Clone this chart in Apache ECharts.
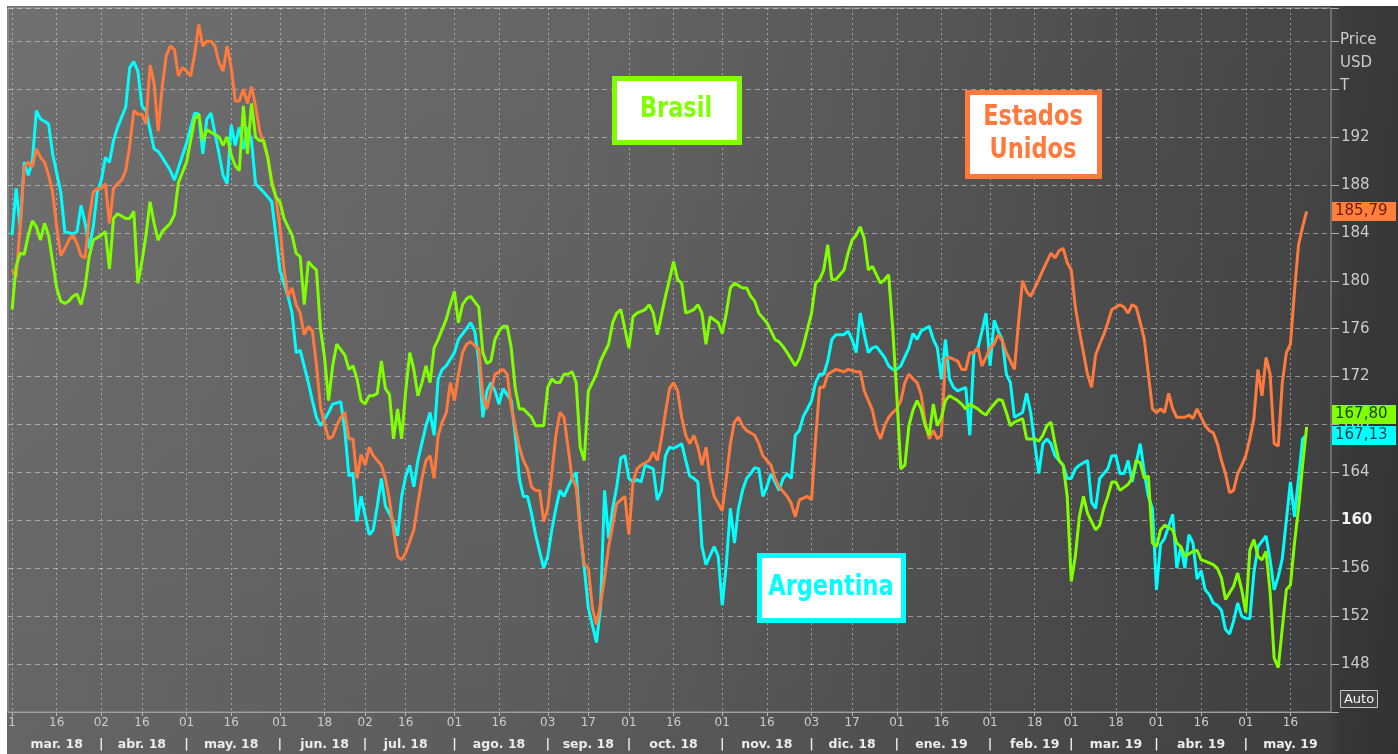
<!DOCTYPE html>
<html><head><meta charset="utf-8">
<script src="https://cdn.jsdelivr.net/npm/echarts@6/dist/echarts.min.js"></script>
<style>
html,body{margin:0;padding:0;background:#fff;}
#bg{position:absolute;left:7px;top:6px;width:1391px;height:748px;
background: linear-gradient(to bottom, rgba(0,0,0,0) 0%, rgba(0,0,0,0.10) 100%),
 linear-gradient(to right, #707070 0px, #646464 600px, #575757 900px, #4c4c4c 1150px, #454545 1320px, #3c3c3c 1335px, #383838 1391px);}
#chart{position:absolute;left:0;top:0;width:1398px;height:754px;}
</style></head><body><div id="bg"></div><div id="chart"></div>
<script>
// ---- calendar (business days) ----
const START = '2018-02-28', END = '2019-05-30';
function businessDays(a, b) {
  const out = []; const d = new Date(a + 'T00:00:00Z'); const e = new Date(b + 'T00:00:00Z');
  while (d <= e) { const w = d.getUTCDay(); if (w !== 0 && w !== 6) out.push(d.toISOString().slice(0, 10)); d.setUTCDate(d.getUTCDate() + 1); }
  return out;
}
const categories = businessDays(START, END);

// ---- tick labels ----
const tickDates = ['2018-03-01','2018-03-16','2018-04-02','2018-04-16','2018-05-01','2018-05-16','2018-06-01','2018-06-18','2018-07-02','2018-07-16','2018-08-01','2018-08-16','2018-09-03','2018-09-17','2018-10-01','2018-10-16','2018-11-01','2018-11-16','2018-12-03','2018-12-17','2019-01-01','2019-01-16','2019-02-01','2019-02-18','2019-03-01','2019-03-18','2019-04-01','2019-04-16','2019-05-01','2019-05-16'];
const tickLabels = ['1','16','02','16','01','16','01','18','02','16','01','16','03','17','01','16','01','16','03','17','01','16','01','18','01','18','01','16','01','16'];
const monthNames = ['mar. 18','abr. 18','may. 18','jun. 18','jul. 18','ago. 18','sep. 18','oct. 18','nov. 18','dic. 18','ene. 19','feb. 19','mar. 19','abr. 19','may. 19'];

// ---- series values: [business-day index, price] ----
const argentina = [[1,183.8],[2,187.7],[3,184.5],[4,189.9],[5,188.8],[6,190],[7,194.2],[8,193.5],[10,193.1],[11,190.6],[13,187.4],[14,184.1],[16,183.9],[17,184.1],[18,186.3],[19,184.8],[20,182.7],[21,184.5],[22,187.4],[23,188.4],[24,190.3],[25,189.9],[26,191.7],[27,192.8],[29,194.5],[30,197.8],[31,198.3],[32,197.5],[33,194.6],[34,194.2],[36,191],[37,190.8],[38,190.3],[40,189.2],[41,188.4],[44,191.5],[46,194],[47,193.9],[48,190.6],[49,193.5],[50,194],[52,190.6],[53,188.8],[54,188.1],[55,193],[56,191.3],[57,192.8],[58,191],[59,192.8],[60,191.7],[61,188.1],[63,187.4],[65,186.6],[66,183.8],[67,180.9],[69,178.7],[70,177.3],[71,174],[72,174.2],[74,171.5],[75,170],[76,168.6],[77,167.9],[79,169],[80,169.7],[82,169.9],[83,167.5],[84,163.7],[85,163.9],[86,159.9],[87,162],[89,158.8],[90,159.2],[91,161.2],[92,163.5],[93,161.2],[95,159.9],[96,158.7],[97,162],[98,163.7],[99,164.6],[100,162.8],[101,165],[103,167.9],[104,169],[105,167.1],[106,171.8],[107,172.6],[108,172.9],[110,174],[111,175.1],[113,176],[114,176.5],[115,175.8],[116,173.3],[117,168.6],[118,170.8],[119,171.5],[120,170.8],[121,169.7],[122,171],[124,170],[125,167.1],[126,163.5],[127,162],[128,162],[129,160.6],[130,158.8],[132,156],[133,157],[134,159.2],[135,161],[136,162.5],[137,162],[139,163.5],[140,164],[141,159.2],[142,156],[143,152.7],[145,149.8],[146,152.7],[147,162.5],[148,158.5],[149,161],[150,162.8],[151,165.2],[152,165.4],[153,163.5],[154,163.2],[155,163.4],[156,163.2],[157,164.6],[159,164.3],[160,161.7],[161,162.5],[162,165.4],[163,166.1],[164,166],[166,166.4],[167,165],[168,163.7],[169,163.5],[170,163.2],[171,157.8],[172,156.3],[174,157.8],[175,157],[176,152.9],[177,156.3],[178,161],[179,158.1],[180,161],[181,162.5],[182,163.5],[183,163.9],[184,164.4],[185,164.3],[186,162],[187,162.8],[188,163.9],[189,163.2],[190,162.5],[191,163.5],[192,163.9],[193,163.5],[194,167.1],[195,167.5],[196,168.7],[197,169.3],[198,170],[199,171.5],[200,172.2],[201,172.2],[202,173.3],[203,175.1],[204,175.5],[206,175.5],[207,175.8],[208,175.1],[209,174],[210,177.3],[211,175.5],[212,174],[213,174.4],[214,174.5],[216,173.6],[217,172.9],[218,172.6],[219,172.6],[220,172.9],[222,174.4],[223,175.6],[224,175.1],[225,175.8],[227,176.2],[228,175.1],[229,174.4],[230,171.8],[231,175.1],[232,171.8],[233,171.1],[234,170.8],[236,171.1],[237,167.1],[238,174],[239,174.4],[240,175.8],[241,177.3],[242,172.9],[243,176.7],[244,175.8],[245,175.1],[246,172.2],[247,171.5],[248,168.6],[250,169],[251,170.6],[252,169],[253,166.4],[254,163.9],[255,166.4],[256,166.8],[257,166.4],[258,165.4],[260,164.6],[261,163.5],[262,163.5],[263,164.3],[264,164.6],[266,165],[267,161.5],[268,161],[269,163.5],[271,164.3],[272,165.4],[273,165.4],[274,163.9],[275,163.9],[276,165],[277,163.2],[279,166.4],[280,164],[281,162],[282,161],[283,154.2],[284,158],[285,158.5],[286,159.5],[287,160.5],[288,156],[289,157.8],[290,156],[291,158.8],[292,158.1],[293,155.1],[294,155.8],[295,154.2],[296,153.8],[297,153.1],[298,152.9],[299,152.5],[300,150.9],[301,150.5],[302,151.6],[303,153.1],[304,152],[305,151.8],[306,151.8],[307,155.6],[308,157.8],[310,158.7],[311,156.7],[312,154.2],[313,155.3],[314,156.8],[315,160],[316,163.2],[317,160.3],[318,163.5],[319,166.8],[320,167.13]];

const brasil = [[1,177.6],[2,181.2],[3,182.3],[4,182.2],[5,183.8],[6,185],[7,184.5],[8,183.4],[9,184.8],[10,183.8],[11,181.6],[12,179.4],[13,178.3],[14,178.1],[15,178.3],[16,178.7],[17,178.9],[18,178],[19,179.5],[20,182],[21,183.4],[22,183.6],[23,183.8],[24,184.1],[25,181],[26,185.2],[27,185.6],[29,185.2],[30,185.2],[31,185.8],[32,179.8],[33,181.6],[34,183.8],[35,186.6],[36,184.8],[37,183.4],[38,184.1],[40,184.8],[41,185.5],[42,188.2],[44,189.9],[45,191.7],[46,193.5],[47,193.9],[48,191.7],[49,192.6],[50,192.4],[52,192],[53,191.3],[54,192],[55,190.5],[56,189.6],[57,189.2],[58,194.6],[59,190.6],[60,194.8],[61,192],[62,191.7],[63,191.7],[64,190.3],[65,188.1],[66,187],[67,186.6],[68,185.2],[69,184.5],[70,183.8],[71,182.3],[72,182],[73,178],[74,181.6],[75,181.2],[76,180.9],[77,176],[78,173.6],[79,170],[80,172.9],[81,174.7],[83,173.8],[84,172.6],[85,172.9],[86,171.8],[87,170],[88,169.7],[89,170.4],[90,170.4],[91,170.6],[92,173.3],[93,171],[94,170.5],[95,166.8],[96,169.3],[97,166.8],[98,170.8],[99,174],[100,172.6],[101,170.4],[102,171.5],[103,172.9],[104,171.5],[105,174.4],[106,175.1],[108,176.8],[109,178],[110,179.1],[111,176.5],[112,178],[113,178.5],[114,178.7],[116,177.8],[117,174],[118,173.1],[119,173.3],[120,175.1],[121,175.8],[122,176.2],[123,176.2],[124,174.4],[125,171],[126,169.3],[127,169.3],[129,168.6],[130,167.9],[131,167.9],[132,167.9],[133,171.1],[134,171.8],[135,171.5],[136,171.5],[137,172.2],[138,172.2],[139,172.4],[140,171.5],[141,166.1],[142,165],[143,170.8],[144,171.5],[145,172.2],[146,173.3],[148,174.7],[149,176.5],[150,177.3],[151,177.6],[153,174.4],[154,177],[155,177.3],[157,177.6],[158,178],[159,177.3],[160,175.5],[162,178.7],[163,180.1],[164,181.6],[165,180.1],[166,179.8],[167,177.3],[169,177.6],[170,178],[171,177.3],[172,174.7],[173,177],[175,176.5],[176,175.6],[177,177.3],[178,179.4],[179,179.8],[181,179.4],[182,179.4],[183,178.7],[184,178.3],[185,177.3],[186,176.9],[187,176.5],[189,175.1],[190,174.9],[191,174.5],[192,174],[194,172.9],[195,173.5],[196,174.6],[198,177.3],[199,179.8],[200,180.1],[201,180.9],[202,183],[203,180.1],[204,180.1],[205,180.5],[206,180.9],[207,182.3],[208,183.4],[209,183.8],[210,184.5],[211,183.5],[212,180.9],[213,181.2],[215,179.8],[216,180.1],[217,180.5],[218,176],[219,170.5],[220,164.3],[221,164.6],[222,167.9],[223,169.2],[224,170],[225,169.3],[226,167.9],[227,167.1],[228,169.7],[229,167.9],[230,168.6],[231,170],[232,170.4],[234,170],[235,169.7],[236,169.3],[237,169.7],[239,169.3],[240,169],[241,168.8],[242,169.3],[244,170.1],[245,170],[246,169],[247,167.9],[248,168.2],[250,168.5],[251,166.8],[253,166.8],[254,166.6],[255,167.1],[256,167.9],[257,168.2],[258,166.4],[259,165],[260,164.6],[261,162],[262,154.9],[263,157],[264,160.3],[265,162],[266,160.6],[267,159.9],[268,159.2],[269,159.6],[270,161],[271,162],[272,163.2],[273,163.2],[274,162.5],[276,163],[277,163.5],[278,165],[279,164.8],[280,163.5],[281,163.7],[282,158.1],[283,157.8],[284,159.2],[285,159.6],[287,159.2],[288,158.1],[289,157.8],[290,157],[292,157.4],[293,157.5],[294,156.7],[295,156.6],[297,156.3],[298,156],[299,155.2],[300,153.4],[302,154.5],[303,155.6],[304,154.2],[305,152.3],[306,157.5],[307,158.4],[308,157],[309,156.7],[310,157.4],[311,154],[312,148.5],[313,147.7],[314,151],[315,154.2],[316,154.6],[317,158.1],[318,161],[319,164.6],[320,167.8]];

const estadosUnidos = [[1,180.9],[2,180.3],[3,184.5],[4,189.5],[5,189.9],[6,189.5],[7,191],[8,190.3],[9,189.9],[10,188.8],[11,187.4],[12,184.5],[13,182.1],[14,182.7],[15,183.4],[16,183.8],[17,183.1],[18,182.1],[19,181.9],[20,185.2],[21,187.4],[22,187.7],[23,187.7],[24,188.1],[25,184.8],[26,187.7],[27,188.1],[28,188.4],[29,189.2],[30,191.3],[31,194.2],[32,193.9],[33,193.9],[34,193.1],[35,198],[36,196.5],[37,192.5],[38,196.2],[39,198.8],[40,199.6],[41,199.3],[42,197.1],[43,197.8],[44,197.5],[45,197.1],[46,198.9],[47,201.4],[48,199.6],[49,200],[50,200],[51,199.6],[52,198.2],[53,197.5],[54,199.6],[55,197.8],[56,195],[57,195],[58,196],[59,194.8],[60,196.2],[61,194.6],[62,192.5],[63,191.5],[64,190.3],[65,188.4],[66,187],[67,184.5],[68,181],[69,178.7],[70,179.4],[71,178],[72,177.3],[73,175.5],[74,176.2],[75,175.8],[76,173],[77,169.5],[78,168],[79,166.8],[80,167],[81,167.9],[82,168.6],[83,169],[84,166.8],[85,166.8],[86,163.5],[87,165.5],[88,164.6],[89,166.1],[90,165.4],[92,164.6],[93,163.5],[94,161.7],[95,159.2],[96,157],[97,156.7],[98,157.3],[100,159.2],[101,161.4],[102,163.5],[103,165],[104,165.4],[105,163.5],[106,167.1],[107,168.2],[108,169],[109,171.5],[110,170],[111,172.2],[112,174],[113,174.7],[114,174.9],[116,174.3],[117,170.4],[118,169.3],[119,170.8],[120,172.2],[122,172.6],[123,172.2],[124,169.5],[126,166.1],[127,165],[128,164.3],[129,162.8],[130,162.5],[131,162.5],[132,159.9],[133,161],[134,163.9],[135,167.1],[136,169],[137,168.6],[138,166.1],[139,163.5],[140,162.8],[141,159.2],[142,156.3],[143,156],[144,152.7],[145,151.3],[146,153],[147,155.2],[148,157.8],[149,159.6],[150,161.4],[152,162],[153,158.8],[154,163.2],[155,164.3],[156,164.6],[158,165],[159,165.7],[160,165],[161,166.8],[162,169],[163,171],[164,171.5],[165,170.8],[166,168.6],[167,167.1],[168,166.4],[169,167.1],[170,166.1],[171,164.6],[172,166.1],[173,163.5],[174,162],[175,161.4],[176,160.8],[177,163.5],[178,166.4],[179,168.2],[180,168.6],[181,167.9],[182,167.5],[184,167.1],[185,166.4],[186,165.4],[187,165],[188,164.6],[189,163.5],[190,162.8],[192,162],[193,161.4],[194,160.3],[195,161.7],[197,162],[198,161.7],[199,166.8],[200,171.1],[201,171.1],[202,172.2],[203,172.4],[204,172.6],[206,172.4],[207,172.6],[209,172.4],[210,172.4],[211,170.8],[212,170],[213,169.2],[214,167.6],[215,166.8],[216,167.9],[217,168.6],[218,169],[219,169.3],[220,170],[221,171.5],[222,172.2],[223,171.8],[224,171.5],[225,170.5],[226,168.2],[227,166.8],[228,167.5],[229,166.8],[230,167.1],[231,173.5],[232,173.6],[234,173.3],[235,172.6],[236,172.6],[237,174],[238,174],[239,174.4],[240,172.9],[241,173.6],[242,174.4],[243,174.7],[244,175.5],[245,175],[246,174],[247,173.3],[248,172.6],[249,176.5],[250,180],[251,179.1],[252,178.7],[253,179.4],[254,180.1],[255,180.9],[256,181.6],[257,182.3],[258,181.9],[259,182.5],[260,182.7],[261,181.5],[262,180.9],[263,177.8],[264,175.8],[265,174],[266,172.2],[267,171.1],[268,173.8],[269,174.7],[270,175.5],[271,176.5],[272,177.6],[274,178],[275,177.8],[276,177.3],[277,178],[278,177.8],[279,176.5],[280,175.1],[281,172.2],[282,169.3],[283,169],[284,169.3],[285,169],[286,170.6],[287,169.3],[288,168.6],[290,168.6],[291,168.8],[292,168.5],[293,169.3],[295,167.9],[296,167.5],[297,167.3],[298,166.4],[299,165],[300,163.9],[301,162.3],[302,162.5],[303,163.9],[304,164.6],[305,165.4],[306,166.8],[307,168.5],[308,172.6],[309,170.4],[310,173.6],[311,172.2],[312,166.4],[313,166.2],[314,171.5],[315,174],[316,174.7],[317,179.1],[318,183],[319,184.5],[320,185.79]];

// ---- colors ----
const C_ARG = '#00ffff', C_BRA = '#80ff00', C_USA = '#ff7a3c';

// ---- derived axis helpers ----
const tickIdx = tickDates.map(d => categories.indexOf(d));
const tickMap = new Map(tickIdx.map((i, k) => [i, tickLabels[k]]));
const monthMap = new Map();
tickIdx.forEach((i, k) => { if (k % 2 === 1) monthMap.set(i, monthNames[(k - 1) / 2]); else if (k > 0) monthMap.set(i, '|'); });
const toSeries = arr => arr.map(([i, v]) => [categories[i], v]);

const FONT = 'DejaVu Sans, Verdana, sans-serif';
const gridLine = 'rgba(255,255,255,0.42)';

const chart = echarts.init(document.getElementById('chart'), null, {renderer: 'canvas'});
const option = {
  backgroundColor: 'transparent',
  animation: false,
  grid: {left: 8, right: 67, top: 8, bottom: 42, show: true, borderColor: '#9a9a9a', borderWidth: 1, backgroundColor: 'transparent', outerBoundsMode: 'none', containLabel: false},
  xAxis: [{
    type: 'category', data: categories, boundaryGap: false,
    axisLine: {show: true, lineStyle: {color: '#a0a0a0'}},
    axisTick: {show: true, interval: i => tickMap.has(i), length: 4, lineStyle: {color: '#b5b5b5'}},
    axisLabel: {interval: i => tickMap.has(i), formatter: (v, i) => tickMap.get(i) || '', color: '#cdcdcd', fontSize: 12, fontFamily: FONT, margin: 5},
    splitLine: {show: true, interval: i => tickMap.has(i), lineStyle: {color: gridLine, type: [2, 3], width: 1}}
  }, {
    type: 'category', data: categories, boundaryGap: false, position: 'bottom', offset: 21,
    axisLine: {show: false}, axisTick: {show: false}, splitLine: {show: false},
    axisLabel: {interval: i => monthMap.has(i), formatter: (v, i) => monthMap.get(i) || '', color: '#ececec', fontSize: 12.5, fontWeight: 'bold', fontFamily: FONT, margin: 5}
  }],
  yAxis: {
    type: 'value', position: 'right', min: 144, max: 202.77, interval: 4,
    axisLine: {show: false},
    axisTick: {show: true, length: 8, lineStyle: {color: '#b0b0b0'}},
    axisLabel: {
      margin: 10, color: '#cccccc', fontSize: 15, fontFamily: FONT,
      formatter: v => (v >= 148 && v <= 192) ? (v === 160 ? '{b|160}' : String(v)) : '',
      rich: {b: {fontWeight: 'bold', color: '#f2f2f2', fontSize: 15, fontFamily: FONT}}
    },
    splitLine: {show: true, lineStyle: {color: gridLine, type: [5, 4], width: 1}}
  },
  series: [
    {name: 'Argentina', type: 'line', data: toSeries(argentina), symbol: 'none', lineStyle: {color: C_ARG, width: 3}, itemStyle: {color: C_ARG}, z: 3},
    {name: 'Estados Unidos', type: 'line', data: toSeries(estadosUnidos), symbol: 'none', lineStyle: {color: C_USA, width: 3}, itemStyle: {color: C_USA}, z: 4},
    {name: 'Brasil', type: 'line', data: toSeries(brasil), symbol: 'none', lineStyle: {color: C_BRA, width: 3}, itemStyle: {color: C_BRA}, z: 5}
  ]
};
chart.setOption(option);

// ---- annotations ----
const LBL_FONT = 'bold 25px "DejaVu Sans Condensed", "DejaVu Sans", sans-serif';
function box(x, y, w, h, color) {
  return {type: 'rect', shape: {x, y, width: w, height: h}, style: {fill: '#ffffff', stroke: color, lineWidth: 5}, z: 20};
}
function label(x, y, text, color) {
  return {type: 'text', x, y, scaleY: 1.14, style: {text, fill: color, font: LBL_FONT, align: 'center', verticalAlign: 'middle', textAlign: 'center', textVerticalAlign: 'middle'}, z: 21};
}
const last = a => a[a.length - 1][1];
const tags = [
  {v: last(estadosUnidos), bg: '#ff7f3f', fg: '#6a1c00'},
  {v: last(brasil), bg: '#80ff00', fg: '#1f4200'},
  {v: last(argentina), bg: '#00ffff', fg: '#003e46'}
];
tags.forEach(t => { t.y = chart.convertToPixel({yAxisIndex: 0}, t.v); });
tags.sort((a, b) => a.y - b.y);
for (let i = tags.length - 1; i > 0; i--) {
  if (tags[i].y - tags[i - 1].y < 21) tags[i - 1].y = tags[i].y - 21;
}
const tagEls = [];
tags.forEach(t => {
  tagEls.push({type: 'rect', shape: {x: 1332, y: Math.round(t.y) - 9, width: 64, height: 19}, style: {fill: t.bg}, z: 30});
  tagEls.push({type: 'text', x: 1335, y: Math.round(t.y) + 0.5, style: {text: t.v.toFixed(2).replace('.', ','), fill: t.fg, font: '15px ' + FONT, align: 'left', verticalAlign: 'middle', textVerticalAlign: 'middle'}, z: 31});
});

chart.setOption({
  graphic: [
    box(614.5, 78.5, 125, 64, C_BRA), label(676, 110, 'Brasil', C_BRA),
    box(967.5, 92.5, 132, 84, C_USA), label(1033, 118, 'Estados', C_USA), label(1033, 151, 'Unidos', C_USA),
    box(759.5, 555.5, 144, 65, C_ARG), label(831, 588, 'Argentina', C_ARG),
    {type: 'text', x: 1340, y: 40, style: {text: 'Price', fill: '#cccccc', font: '15px ' + FONT, align: 'left', verticalAlign: 'middle', textVerticalAlign: 'middle'}, z: 30},
    {type: 'text', x: 1340, y: 63, style: {text: 'USD', fill: '#cccccc', font: '15px ' + FONT, align: 'left', verticalAlign: 'middle', textVerticalAlign: 'middle'}, z: 30},
    {type: 'text', x: 1340, y: 86, style: {text: 'T', fill: '#cccccc', font: '15px ' + FONT, align: 'left', verticalAlign: 'middle', textVerticalAlign: 'middle'}, z: 30},
    {type: 'rect', shape: {x: 1340.5, y: 690.5, width: 37, height: 17}, style: {fill: 'rgba(255,255,255,0.06)', stroke: '#c8c8c8', lineWidth: 1}, z: 30},
    {type: 'text', x: 1359, y: 699.5, style: {text: 'Auto', fill: '#f4f4f4', font: '13px ' + FONT, align: 'center', verticalAlign: 'middle', textAlign: 'center', textVerticalAlign: 'middle'}, z: 31}
  ].concat(tagEls)
});
</script></body></html>
